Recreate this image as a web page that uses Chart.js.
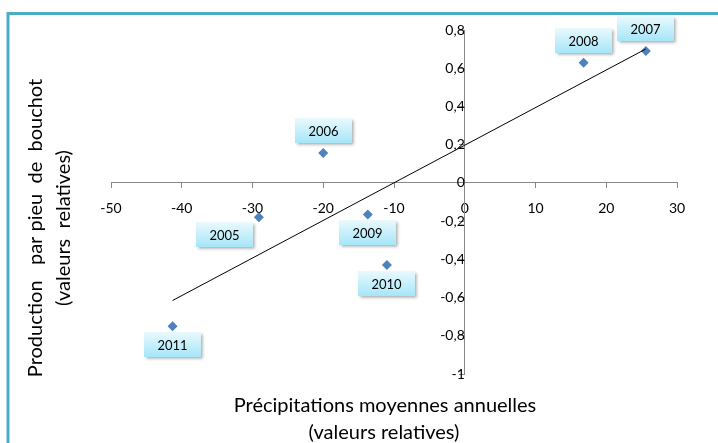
<!DOCTYPE html>
<html>
<head>
<meta charset="utf-8">
<script src="https://cdn.jsdelivr.net/npm/chart.js@4.4.0/dist/chart.umd.min.js"></script>
<style>
  html, body { margin: 0; padding: 0; background: #fff; }
  #wrap { width: 718px; height: 443px; position: relative; }
</style>
</head>
<body>
<div id="wrap"><canvas id="chart" width="718" height="443"></canvas></div>
<script>
// ---- data ----
var years = ['2005', '2006', '2007', '2008', '2009', '2010', '2011'];
var rainfall = [-29.1, -20, 25.6, 16.8, -13.7, -11, -41.3];
var production = [-0.18, 0.157, 0.69, 0.628, -0.165, -0.43, -0.75];
var xTicks = [-50, -40, -30, -20, -10, 0, 10, 20, 30];
var yTicks = [-1, -0.8, -0.6, -0.4, -0.2, 0, 0.2, 0.4, 0.6, 0.8];
// where each year's label box sits relative to its point
var labelPlace = ['belowLeft', 'above', 'above', 'above', 'below', 'below', 'below'];

var font = "Lato, 'Open Sans', sans-serif";

(function() {
  var points = years.map(function(y, i) { return { x: rainfall[i], y: production[i] }; });

  // linear trendline (least squares) across the data range
  var n = points.length, mx = 0, my = 0;
  points.forEach(function(p) { mx += p.x / n; my += p.y / n; });
  var sxy = 0, sxx = 0;
  points.forEach(function(p) { sxy += (p.x - mx) * (p.y - my); sxx += (p.x - mx) * (p.x - mx); });
  var slope = sxy / sxx, icpt = my - slope * mx;
  var xMin = Math.min.apply(null, rainfall), xMax = Math.max.apply(null, rainfall);
  var trend = [{ x: xMin, y: icpt + slope * xMin }, { x: xMax, y: icpt + slope * xMax }];

  var frame = {
    id: 'frame',
    beforeDraw: function(chart) {
      var c = chart.ctx;
      c.save();
      c.strokeStyle = '#4BACC6';
      c.lineWidth = 3;
      c.beginPath();
      c.moveTo(8, 443);
      c.lineTo(8, 13.5);
      c.lineTo(718, 13.5);
      c.stroke();
      c.restore();
    }
  };

  var axisTitles = {
    id: 'axisTitles',
    afterDraw: function(chart) {
      var c = chart.ctx;
      c.save();
      c.fillStyle = '#000';
      c.font = '20px ' + font;
      c.textAlign = 'center';
      c.textBaseline = 'middle';
      c.fillText('Précipitations moyennes annuelles', 385, 406);
      c.fillText('(valeurs relatives)', 384, 433);
      c.translate(0, 228);
      c.rotate(-Math.PI / 2);
      c.fillText('Production   par pieu  de  bouchot', 0, 36);
      c.fillText('(valeurs  relatives)', 0, 64);
      c.restore();
    }
  };

  var yearLabels = {
    id: 'yearLabels',
    afterDatasetsDraw: function(chart) {
      var c = chart.ctx;
      var meta = chart.getDatasetMeta(1);
      var w = 57, h = 25;
      c.save();
      c.font = '13px ' + font;
      c.textAlign = 'center';
      c.textBaseline = 'middle';
      meta.data.forEach(function(pt, i) {
        var cx = pt.x, top;
        var place = labelPlace[i];
        if (place === 'above') { top = pt.y - 10 - h; }
        else if (place === 'below') { top = pt.y + 6; }
        else { cx = pt.x - 34; top = pt.y + 5; }
        var left = Math.round(cx - w / 2);
        top = Math.round(top);
        c.save();
        c.shadowColor = 'rgba(0,0,0,0.35)';
        c.shadowBlur = 3;
        c.shadowOffsetX = 1.5;
        c.shadowOffsetY = 1.5;
        var g = c.createLinearGradient(0, top, 0, top + h);
        g.addColorStop(0, '#EAF9FE');
        g.addColorStop(1, '#A5E6F8');
        c.fillStyle = g;
        c.fillRect(left, top, w, h);
        c.restore();
        c.fillStyle = '#000';
        c.fillText(years[i], left + w / 2, top + h / 2 + 1);
      });
      c.restore();
    }
  };

  function comma(v) { return String(Math.round(v * 10) / 10).replace('.', ','); }

  new Chart(document.getElementById('chart'), {
    type: 'scatter',
    data: {
      datasets: [{
        type: 'line',
        label: 'Tendance',
        data: trend,
        borderColor: '#000',
        borderWidth: 1,
        pointRadius: 0,
        fill: false
      }, {
        label: 'Production',
        data: points,
        pointStyle: 'rectRot',
        pointRadius: 5,
        pointHoverRadius: 5,
        backgroundColor: '#4F81BD',
        borderColor: '#4F81BD',
        borderWidth: 0
      }]
    },
    options: {
      responsive: false,
      animation: false,
      layout: { padding: { left: 111, right: 41, top: 30, bottom: 69 } },
      plugins: { legend: { display: false }, tooltip: { enabled: false } },
      scales: {
        x: {
          type: 'linear',
          position: { y: 0 },
          min: xTicks[0],
          max: xTicks[xTicks.length - 1],
          afterBuildTicks: function(s) { s.ticks = xTicks.map(function(v) { return { value: v }; }); },
          ticks: { color: '#000', font: { family: font, size: 14 }, padding: 12, maxRotation: 0 },
          grid: { drawOnChartArea: false, drawTicks: true, tickLength: 5, color: '#888' },
          border: { color: '#888', width: 1 }
        },
        y: {
          type: 'linear',
          position: { x: 0 },
          min: yTicks[0],
          max: yTicks[yTicks.length - 1],
          afterBuildTicks: function(s) { s.ticks = yTicks.map(function(v) { return { value: v }; }); },
          ticks: { color: '#000', font: { family: font, size: 14 }, padding: 5, callback: comma },
          grid: { drawOnChartArea: false, drawTicks: true, tickLength: 5, color: '#888' },
          border: { color: '#888', width: 1 }
        }
      }
    },
    plugins: [frame, yearLabels, axisTitles]
  });
})();
</script>
</body>
</html>
